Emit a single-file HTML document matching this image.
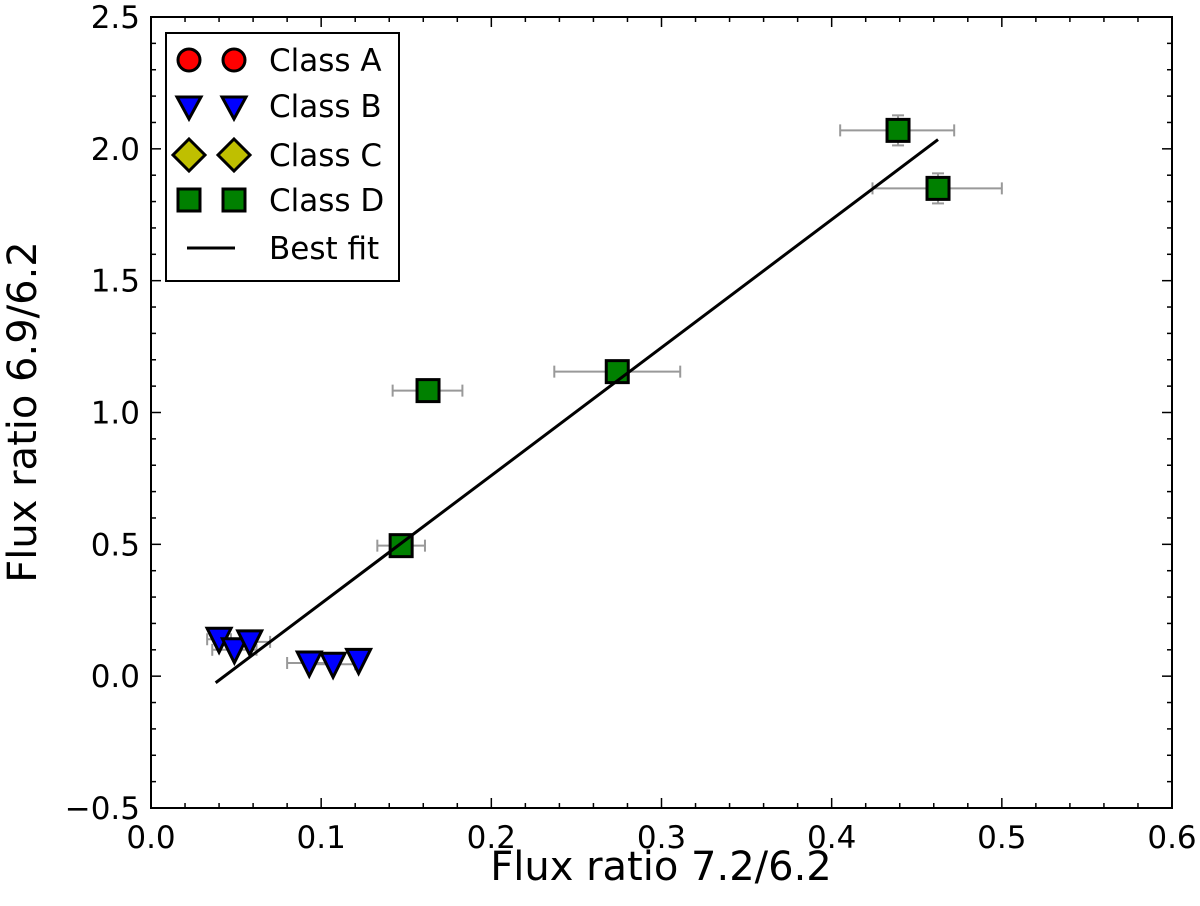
<!DOCTYPE html>
<html><head><meta charset="utf-8"><style>
body{margin:0;background:#fff}
svg text{font-family:"DejaVu Sans","Liberation Sans",sans-serif;fill:#000}
</style></head><body>
<svg id="chart" width="1200" height="901" xmlns="http://www.w3.org/2000/svg">
<g id="marks"></g>
<g id="axes"></g>
</svg>
<script>
const classDX=[0.147,0.1628,0.274,0.439,0.4625];
const classDY=[0.495,1.083,1.155,2.07,1.85];
const classDXlo=[0.133,0.142,0.237,0.405,0.424];
const classDXhi=[0.161,0.183,0.311,0.472,0.50];
const classDYerr=[0,0,0,0.057,0.057];
const classBX=[0.04,0.049,0.058,0.093,0.107,0.122];
const classBY=[0.14,0.10,0.13,0.05,0.045,0.06];
const classBXlo=[0.033,0.036,0.045,0.080,0.094,0.122];
const classBXhi=[0.047,0.062,0.07,0.106,0.12,0.122];
const fitX=[0.038,0.4625];
const fitY=[-0.025,2.035];
const xTicks=["0.0","0.1","0.2","0.3","0.4","0.5","0.6"];
const yTicks=["\u22120.5","0.0","0.5","1.0","1.5","2.0","2.5"];
const L=151,R=1172,T=17,B=808;
const sx=v=>L+(v-0)/0.6*(R-L);
const sy=v=>B-(v+0.5)/3*(B-T);
const NS="http://www.w3.org/2000/svg";
function mk(tag,attrs,parent){const e=document.createElementNS(NS,tag);for(const k in attrs)e.setAttribute(k,attrs[k]);parent.appendChild(e);return e;}
const marks=document.getElementById('marks'),axes=document.getElementById('axes');
function errx(x1,x2,y,p){mk('line',{x1:sx(x1),x2:sx(x2),y1:sy(y),y2:sy(y),stroke:'#999','stroke-width':2},p);
[x1,x2].forEach(x=>{if(x1!==x2)mk('line',{x1:sx(x),x2:sx(x),y1:sy(y)-6,y2:sy(y)+6,stroke:'#999','stroke-width':2},p);});}
classBX.forEach((x,i)=>{const g=mk('g',{},marks);


errx(classBXlo[i],classBXhi[i],classBY[i],g);});
classDX.forEach((x,i)=>{const g=mk('g',{},marks);


errx(classDXlo[i],classDXhi[i],classDY[i],g);
if(classDYerr[i]>0){const y1=sy(classDY[i]+classDYerr[i]),y2=sy(classDY[i]-classDYerr[i]),cx=sx(x);
mk('line',{x1:cx,x2:cx,y1:y1,y2:y2,stroke:'#999','stroke-width':2},g);
[y1,y2].forEach(y=>mk('line',{x1:cx-6,x2:cx+6,y1:y,y2:y,stroke:'#999','stroke-width':2},g));}});
classDX.forEach((x,i)=>{const r=mk('rect',{x:sx(x)-11,y:sy(classDY[i])-11,width:22,height:22,fill:'#008000',stroke:'#000','stroke-width':3},marks);

});
const fl=mk('line',{x1:sx(fitX[0]),y1:sy(fitY[0]),x2:sx(fitX[1]),y2:sy(fitY[1]),stroke:'#000','stroke-width':3},marks);


classBX.forEach((x,i)=>{const cx=sx(x),cy=sy(classBY[i]);
const t=mk('polygon',{points:`${cx-12},${cy-11} ${cx+12},${cy-11} ${cx},${cy+13}`,fill:'#0000ff',stroke:'#000','stroke-width':3},marks);

});
const fr=mk('rect',{x:L,y:T,width:R-L,height:B-T,fill:'none',stroke:'#000','stroke-width':2},axes);


for(let k=0;k<=30;k++){const v=k*0.02,x=sx(v),len=(k%5===0)?10:5;
mk('line',{x1:x,x2:x,y1:B,y2:B-len,stroke:'#000','stroke-width':1.5},axes);
mk('line',{x1:x,x2:x,y1:T,y2:T+len,stroke:'#000','stroke-width':1.5},axes);}
for(let k=0;k<=30;k++){const v=-0.5+k*0.1,y=sy(v),len=(k%5===0)?10:5;
mk('line',{x1:L,x2:L+len,y1:y,y2:y,stroke:'#000','stroke-width':1.5},axes);
mk('line',{x1:R,x2:R-len,y1:y,y2:y,stroke:'#000','stroke-width':1.5},axes);}
xTicks.forEach((s,i)=>{const t=mk('text',{x:sx(i*0.1),y:B+40,'text-anchor':'middle','font-size':31},axes);t.textContent=s;

});
yTicks.forEach((s,i)=>{const t=mk('text',{x:L-11,y:sy(-0.5+i*0.5)+11,'text-anchor':'end','font-size':31},axes);t.textContent=s;

});
</script>
<svg style="position:absolute;left:0;top:0" width="1200" height="901" xmlns="http://www.w3.org/2000/svg">
<text x="661" y="880" text-anchor="middle" font-size="40">Flux ratio 7.2/6.2</text>
<text transform="translate(36,412) rotate(-90)" text-anchor="middle" font-size="40">Flux ratio 6.9/6.2</text>
<g>
<rect x="166" y="33" width="233" height="248" fill="#fff" stroke="#000" stroke-width="2"/>
<g>
<circle cx="189" cy="60" r="11" fill="#ff0000" stroke="#000" stroke-width="3"/><circle cx="234" cy="60" r="11" fill="#ff0000" stroke="#000" stroke-width="3"/>
<text x="269" y="71" font-size="31">Class A</text></g>
<g>
<polygon points="177,97 201,97 189,119" fill="#0000ff" stroke="#000" stroke-width="3"/><polygon points="222,97 246,97 234,119" fill="#0000ff" stroke="#000" stroke-width="3"/>
<text x="269" y="117" font-size="31">Class B</text></g>
<g>
<polygon points="189,139 205,155 189,171 173,155" fill="#bfbf00" stroke="#000" stroke-width="3"/><polygon points="234,139 250,155 234,171 218,155" fill="#bfbf00" stroke="#000" stroke-width="3"/>
<text x="269" y="166" font-size="31">Class C</text></g>
<g>
<rect x="178" y="189" width="22" height="22" fill="#008000" stroke="#000" stroke-width="3"/><rect x="223" y="189" width="22" height="22" fill="#008000" stroke="#000" stroke-width="3"/>
<text x="269" y="211" font-size="31">Class D</text></g>
<g>
<line x1="187" y1="248" x2="235" y2="248" stroke="#000" stroke-width="3"/>
<text x="269" y="259" font-size="31">Best fit</text></g>
</g>
</svg>
</body></html>
